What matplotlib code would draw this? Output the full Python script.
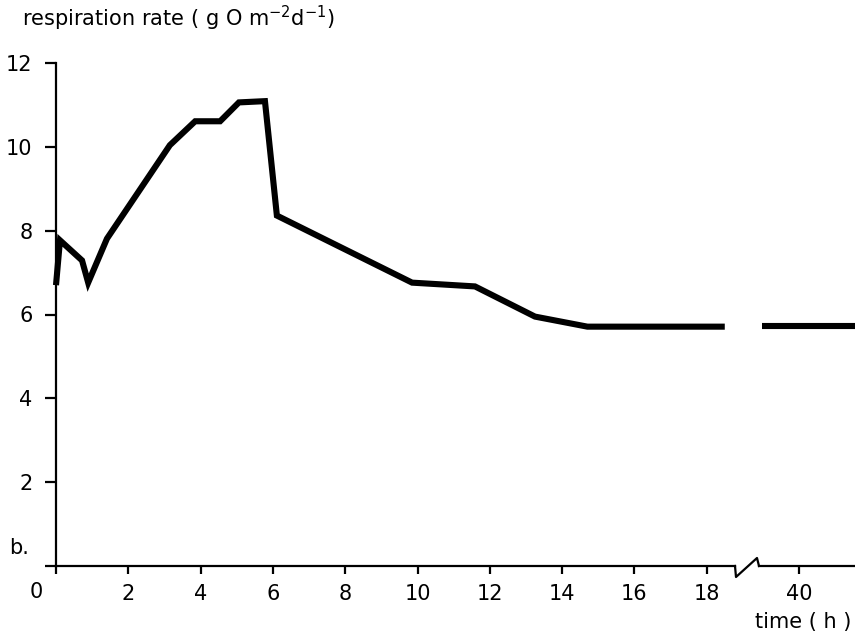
import matplotlib.pyplot as plt
from matplotlib.lines import Line2D

# data (time in hours, respiration in g O m-2 d-1)
t_early = [0, 0.11, 0.72, 0.89, 1.41, 3.15, 3.85, 4.54, 5.06, 5.78, 6.11,
           9.85, 11.59, 13.25, 14.7, 18.5]
r_early = [6.7, 7.77, 7.29, 6.76, 7.81, 10.04, 10.61, 10.61, 11.06, 11.09, 8.36,
           6.76, 6.67, 5.95, 5.71, 5.71]
t_late = [38.98, 41.6]
r_late = [5.72, 5.72]

x_ticks_left = [0, 2, 4, 6, 8, 10, 12, 14, 16, 18]
x_ticks_right = [40]
y_ticks = [2, 4, 6, 8, 10, 12]

W, H = 855, 640
fs = 15
lw_ax = 1.6
fig = plt.figure(figsize=(W / 100, H / 100), dpi=100)

# pixel geometry of the two axis pieces
x0, x_break_l, x_break_r, x_end = 56, 735, 759, 855
y0, y12 = 566, 63
px_per_h = 36.15

ax = fig.add_axes([x0 / W, 1 - y0 / H, (x_break_l - x0) / W, (y0 - y12) / H])
ax2 = fig.add_axes([x_break_r / W, 1 - y0 / H, (x_end - x_break_r) / W, (y0 - y12) / H],
                   sharey=ax)

ax.set_xlim(0, (x_break_l - x0) / px_per_h)
ax.set_ylim(0, 12)
ax2.set_xlim(40 - (799 - x_break_r) / px_per_h, 40 + (x_end - 799) / px_per_h)

ax.plot(t_early, r_early, color="black", lw=4.4, solid_joinstyle="miter",
        solid_capstyle="butt", clip_on=False)
ax2.plot(t_late, r_late, color="black", lw=4.4, solid_capstyle="butt")

for a in (ax, ax2):
    a.spines["top"].set_visible(False)
    a.spines["right"].set_visible(False)
    a.spines["bottom"].set_linewidth(lw_ax)
    a.spines["left"].set_linewidth(lw_ax)
    a.tick_params(axis="x", direction="out", length=6, width=lw_ax,
                  labelsize=fs, pad=7)
    a.tick_params(axis="y", direction="out", length=8, width=lw_ax,
                  labelsize=fs, pad=9)

ax.set_xticks(x_ticks_left)
ax.set_xticklabels([""] + [str(v) for v in x_ticks_left[1:]])
ax.set_yticks([0] + y_ticks)
ax.set_yticklabels([""] + [str(v) for v in y_ticks])

ax2.spines["left"].set_visible(False)
ax2.tick_params(axis="y", left=False, labelleft=False)
ax2.set_xticks(x_ticks_right)
ax2.set_xticklabels([str(v) for v in x_ticks_right])

# the corner "0" sits left of the origin
fig.text(36 / W, 1 - 592 / H, "0", ha="center", va="center", fontsize=fs)
fig.text(9 / W, 1 - 548 / H, "b.", ha="left", va="center", fontsize=fs)

# axis break zigzag
bx = [735, 736, 757, 759]
by = [566, 577, 558, 566]
fig.add_artist(Line2D([v / W for v in bx], [1 - v / H for v in by],
                      transform=fig.transFigure, color="black", lw=lw_ax))

fig.text(22 / W, 1 - 18 / H, r"respiration rate ( g O m$^{-2}$d$^{-1}$)",
         ha="left", va="center", fontsize=fs)
fig.text(851 / W, 1 - 622 / H, "time ( h )", ha="right", va="center", fontsize=fs)

plt.savefig("out.png", dpi=100)
